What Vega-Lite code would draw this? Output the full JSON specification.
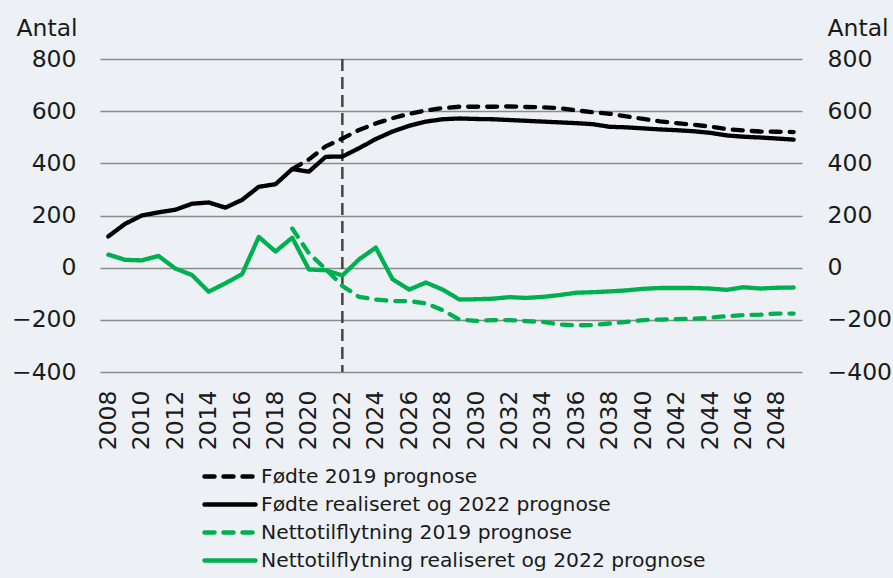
{
  "$schema": "https://vega.github.io/schema/vega-lite/v6.json",
  "width": 702,
  "height": 313,
  "autosize": {"type": "none"},
  "padding": {"left": 100, "top": 59, "right": 91, "bottom": 206},
  "background": "#edf1f5",
  "config": {
    "view": {"stroke": null},
    "font": "DejaVu Sans",
    "axis": {"labelFont": "DejaVu Sans", "titleFont": "DejaVu Sans", "labelColor": "#1a1a1a", "titleColor": "#1a1a1a"}
  },
  "datasets": {
    "series": [
      {"year": 2008, "Fødte realiseret og 2022 prognose": 120, "Nettotilflytning realiseret og 2022 prognose": 50},
      {"year": 2009, "Fødte realiseret og 2022 prognose": 168, "Nettotilflytning realiseret og 2022 prognose": 30},
      {"year": 2010, "Fødte realiseret og 2022 prognose": 200, "Nettotilflytning realiseret og 2022 prognose": 28},
      {"year": 2011, "Fødte realiseret og 2022 prognose": 212, "Nettotilflytning realiseret og 2022 prognose": 45},
      {"year": 2012, "Fødte realiseret og 2022 prognose": 222, "Nettotilflytning realiseret og 2022 prognose": -3},
      {"year": 2013, "Fødte realiseret og 2022 prognose": 245, "Nettotilflytning realiseret og 2022 prognose": -28},
      {"year": 2014, "Fødte realiseret og 2022 prognose": 250, "Nettotilflytning realiseret og 2022 prognose": -92},
      {"year": 2015, "Fødte realiseret og 2022 prognose": 230, "Nettotilflytning realiseret og 2022 prognose": -60},
      {"year": 2016, "Fødte realiseret og 2022 prognose": 260, "Nettotilflytning realiseret og 2022 prognose": -25},
      {"year": 2017, "Fødte realiseret og 2022 prognose": 310, "Nettotilflytning realiseret og 2022 prognose": 118},
      {"year": 2018, "Fødte realiseret og 2022 prognose": 320, "Nettotilflytning realiseret og 2022 prognose": 62},
      {"year": 2019, "Fødte realiseret og 2022 prognose": 378, "Nettotilflytning realiseret og 2022 prognose": 115, "Fødte 2019 prognose": 378, "Nettotilflytning 2019 prognose": 150},
      {"year": 2020, "Fødte realiseret og 2022 prognose": 368, "Nettotilflytning realiseret og 2022 prognose": -7, "Fødte 2019 prognose": 415, "Nettotilflytning 2019 prognose": 55},
      {"year": 2021, "Fødte realiseret og 2022 prognose": 425, "Nettotilflytning realiseret og 2022 prognose": -10, "Fødte 2019 prognose": 465, "Nettotilflytning 2019 prognose": -5},
      {"year": 2022, "Fødte realiseret og 2022 prognose": 426, "Nettotilflytning realiseret og 2022 prognose": -30, "Fødte 2019 prognose": 495, "Nettotilflytning 2019 prognose": -70},
      {"year": 2023, "Fødte realiseret og 2022 prognose": 458, "Nettotilflytning realiseret og 2022 prognose": 32, "Fødte 2019 prognose": 528, "Nettotilflytning 2019 prognose": -112},
      {"year": 2024, "Fødte realiseret og 2022 prognose": 493, "Nettotilflytning realiseret og 2022 prognose": 77, "Fødte 2019 prognose": 553, "Nettotilflytning 2019 prognose": -122},
      {"year": 2025, "Fødte realiseret og 2022 prognose": 522, "Nettotilflytning realiseret og 2022 prognose": -44, "Fødte 2019 prognose": 573, "Nettotilflytning 2019 prognose": -128},
      {"year": 2026, "Fødte realiseret og 2022 prognose": 544, "Nettotilflytning realiseret og 2022 prognose": -84, "Fødte 2019 prognose": 590, "Nettotilflytning 2019 prognose": -128},
      {"year": 2027, "Fødte realiseret og 2022 prognose": 560, "Nettotilflytning realiseret og 2022 prognose": -57, "Fødte 2019 prognose": 603, "Nettotilflytning 2019 prognose": -137},
      {"year": 2028, "Fødte realiseret og 2022 prognose": 569, "Nettotilflytning realiseret og 2022 prognose": -84, "Fødte 2019 prognose": 612, "Nettotilflytning 2019 prognose": -163},
      {"year": 2029, "Fødte realiseret og 2022 prognose": 572, "Nettotilflytning realiseret og 2022 prognose": -122, "Fødte 2019 prognose": 617, "Nettotilflytning 2019 prognose": -199},
      {"year": 2030, "Fødte realiseret og 2022 prognose": 570, "Nettotilflytning realiseret og 2022 prognose": -121, "Fødte 2019 prognose": 617, "Nettotilflytning 2019 prognose": -204},
      {"year": 2031, "Fødte realiseret og 2022 prognose": 569, "Nettotilflytning realiseret og 2022 prognose": -119, "Fødte 2019 prognose": 617, "Nettotilflytning 2019 prognose": -201},
      {"year": 2032, "Fødte realiseret og 2022 prognose": 566, "Nettotilflytning realiseret og 2022 prognose": -113, "Fødte 2019 prognose": 618, "Nettotilflytning 2019 prognose": -201},
      {"year": 2033, "Fødte realiseret og 2022 prognose": 563, "Nettotilflytning realiseret og 2022 prognose": -116, "Fødte 2019 prognose": 616, "Nettotilflytning 2019 prognose": -205},
      {"year": 2034, "Fødte realiseret og 2022 prognose": 560, "Nettotilflytning realiseret og 2022 prognose": -112, "Fødte 2019 prognose": 615, "Nettotilflytning 2019 prognose": -208},
      {"year": 2035, "Fødte realiseret og 2022 prognose": 557, "Nettotilflytning realiseret og 2022 prognose": -105, "Fødte 2019 prognose": 611, "Nettotilflytning 2019 prognose": -218},
      {"year": 2036, "Fødte realiseret og 2022 prognose": 554, "Nettotilflytning realiseret og 2022 prognose": -96, "Fødte 2019 prognose": 603, "Nettotilflytning 2019 prognose": -221},
      {"year": 2037, "Fødte realiseret og 2022 prognose": 550, "Nettotilflytning realiseret og 2022 prognose": -94, "Fødte 2019 prognose": 596, "Nettotilflytning 2019 prognose": -220},
      {"year": 2038, "Fødte realiseret og 2022 prognose": 540, "Nettotilflytning realiseret og 2022 prognose": -91, "Fødte 2019 prognose": 590, "Nettotilflytning 2019 prognose": -214},
      {"year": 2039, "Fødte realiseret og 2022 prognose": 538, "Nettotilflytning realiseret og 2022 prognose": -87, "Fødte 2019 prognose": 580, "Nettotilflytning 2019 prognose": -208},
      {"year": 2040, "Fødte realiseret og 2022 prognose": 534, "Nettotilflytning realiseret og 2022 prognose": -81, "Fødte 2019 prognose": 570, "Nettotilflytning 2019 prognose": -201},
      {"year": 2041, "Fødte realiseret og 2022 prognose": 530, "Nettotilflytning realiseret og 2022 prognose": -78, "Fødte 2019 prognose": 561, "Nettotilflytning 2019 prognose": -199},
      {"year": 2042, "Fødte realiseret og 2022 prognose": 527, "Nettotilflytning realiseret og 2022 prognose": -78, "Fødte 2019 prognose": 554, "Nettotilflytning 2019 prognose": -197},
      {"year": 2043, "Fødte realiseret og 2022 prognose": 523, "Nettotilflytning realiseret og 2022 prognose": -78, "Fødte 2019 prognose": 548, "Nettotilflytning 2019 prognose": -196},
      {"year": 2044, "Fødte realiseret og 2022 prognose": 517, "Nettotilflytning realiseret og 2022 prognose": -80, "Fødte 2019 prognose": 541, "Nettotilflytning 2019 prognose": -192},
      {"year": 2045, "Fødte realiseret og 2022 prognose": 507, "Nettotilflytning realiseret og 2022 prognose": -85, "Fødte 2019 prognose": 531, "Nettotilflytning 2019 prognose": -186},
      {"year": 2046, "Fødte realiseret og 2022 prognose": 502, "Nettotilflytning realiseret og 2022 prognose": -75, "Fødte 2019 prognose": 526, "Nettotilflytning 2019 prognose": -182},
      {"year": 2047, "Fødte realiseret og 2022 prognose": 499, "Nettotilflytning realiseret og 2022 prognose": -80, "Fødte 2019 prognose": 522, "Nettotilflytning 2019 prognose": -180},
      {"year": 2048, "Fødte realiseret og 2022 prognose": 495, "Nettotilflytning realiseret og 2022 prognose": -77, "Fødte 2019 prognose": 521, "Nettotilflytning 2019 prognose": -176},
      {"year": 2049, "Fødte realiseret og 2022 prognose": 491, "Nettotilflytning realiseret og 2022 prognose": -76, "Fødte 2019 prognose": 520, "Nettotilflytning 2019 prognose": -176}
    ],
    "marker": [{"year": 2022}]
  },
  "resolve": {"axis": {"y": "independent"}},
  "layer": [
    {
      "data": {"name": "marker"},
      "mark": {"type": "rule", "color": "#444444", "strokeWidth": 2.5, "strokeDash": [12, 6]},
      "encoding": {
        "x": {"field": "year", "type": "ordinal"}
      }
    },
    {
      "data": {"name": "series"},
      "transform": [
        {"fold": ["Fødte 2019 prognose", "Fødte realiseret og 2022 prognose"], "as": ["serie", "value"]},
        {"filter": "isValid(datum.value)"}
      ],
      "mark": {"type": "line", "strokeWidth": 4.3, "strokeCap": "round", "strokeJoin": "round"},
      "encoding": {
        "x": {
          "field": "year", "type": "ordinal", "title": null,
          "scale": {"type": "point", "padding": 0.5},
          "axis": {
            "values": [2008, 2010, 2012, 2014, 2016, 2018, 2020, 2022, 2024, 2026, 2028, 2030, 2032, 2034, 2036, 2038, 2040, 2042, 2044, 2046, 2048],
            "labelAngle": -90, "labelFontSize": 23.5, "labelPadding": 18, "ticks": false, "domain": false, "grid": false
          }
        },
        "y": {
          "field": "value", "type": "quantitative",
          "scale": {"domain": [-400, 800], "nice": false, "zero": false},
          "axis": {
            "orient": "left", "values": [-400, -200, 0, 200, 400, 600, 800],
            "domain": false, "ticks": false, "grid": true, "gridColor": "#8a8a8a", "gridWidth": 1.3,
            "labelFontSize": 23.5, "labelPadding": 24,
            "title": "Antal", "titleAngle": 0, "titleFontSize": 23.5, "titleFontWeight": "normal",
            "titleAlign": "left", "titleBaseline": "alphabetic", "titleX": -84, "titleY": -24
          }
        },
        "color": {
          "field": "serie", "type": "nominal", "title": null,
          "scale": {
            "domain": ["Fødte 2019 prognose", "Fødte realiseret og 2022 prognose", "Nettotilflytning 2019 prognose", "Nettotilflytning realiseret og 2022 prognose"],
            "range": ["#000000", "#000000", "#00b050", "#00b050"]
          },
          "legend": {
            "orient": "none", "legendX": 102, "legendY": 406.5, "padding": 0,
            "symbolType": "stroke", "symbolSize": 2601, "symbolStrokeWidth": 4.5,
            "labelFont": "DejaVu Sans", "labelFontSize": 20.3, "labelColor": "#1a1a1a", "labelOffset": 3,
            "labelLimit": 600, "clipHeight": 22, "rowPadding": 6,
            "encode": {"symbols": {"update": {"strokeCap": {"value": "round"}}}}
          }
        },
        "strokeDash": {
          "field": "serie", "type": "nominal", "title": null,
          "scale": {
            "domain": ["Fødte 2019 prognose", "Fødte realiseret og 2022 prognose", "Nettotilflytning 2019 prognose", "Nettotilflytning realiseret og 2022 prognose"],
            "range": [[10, 9], [1, 0], [10, 9], [1, 0]]
          }
        }
      }
    },
    {
      "data": {"name": "series"},
      "transform": [
        {"fold": ["Nettotilflytning 2019 prognose", "Nettotilflytning realiseret og 2022 prognose"], "as": ["serie", "value"]},
        {"filter": "isValid(datum.value)"}
      ],
      "mark": {"type": "line", "strokeWidth": 4.3, "strokeCap": "round", "strokeJoin": "round"},
      "encoding": {
        "x": {"field": "year", "type": "ordinal"},
        "y": {
          "field": "value", "type": "quantitative",
          "axis": {
            "orient": "right", "values": [-400, -200, 0, 200, 400, 600, 800],
            "domain": false, "ticks": false, "grid": false,
            "labelFontSize": 23.5, "labelPadding": 25,
            "title": "Antal", "titleAngle": 0, "titleFontSize": 23.5, "titleFontWeight": "normal",
            "titleAlign": "left", "titleBaseline": "alphabetic", "titleX": 25, "titleY": -24
          }
        },
        "color": {"field": "serie", "type": "nominal"},
        "strokeDash": {"field": "serie", "type": "nominal"}
      }
    }
  ]
}
